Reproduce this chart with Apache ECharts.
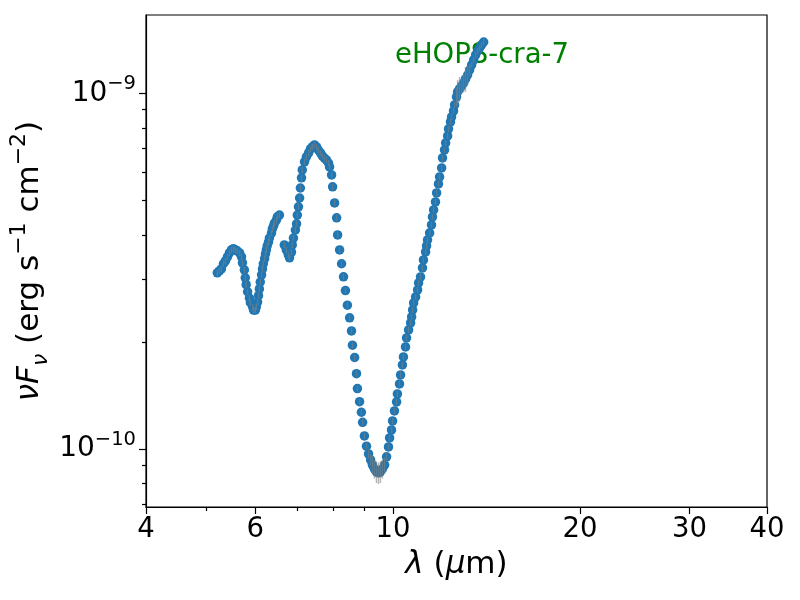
<!DOCTYPE html>
<html>
<head>
<meta charset="utf-8">
<script src="https://cdn.jsdelivr.net/npm/echarts@6/dist/echarts.min.js"></script>
<style>
    html, body { margin: 0; padding: 0; background: #fff; }
    #main { width: 800px; height: 600px; }
</style>
</head>
<body>
<div id="main"></div>
<script>
// wavelength in micron
var wavelength = [
    5.21, 5.25, 5.29, 5.33, 5.37, 5.41, 5.45, 5.49, 5.53, 5.57,
    5.61, 5.66, 5.70, 5.72, 5.76, 5.78, 5.80, 5.83, 5.87, 5.89,
    5.94, 5.96, 6.00, 6.02, 6.05, 6.07, 6.09, 6.11, 6.14, 6.16,
    6.18, 6.21, 6.23, 6.25, 6.27, 6.30, 6.32, 6.37, 6.39, 6.42,
    6.44, 6.49, 6.51, 6.56,
    6.68, 6.73, 6.78, 6.81, 6.86, 6.88, 6.91, 6.96, 6.99, 7.01,
    7.04, 7.07, 7.09, 7.12, 7.14, 7.20, 7.25, 7.31, 7.36, 7.41,
    7.47, 7.53, 7.58, 7.64, 7.69, 7.75, 7.81, 7.87, 7.90, 7.96,
    7.99, 8.05, 8.11, 8.14, 8.20, 8.26, 8.32, 8.38, 8.44, 8.51,
    8.57, 8.60, 8.67, 8.73, 8.76, 8.83, 8.89, 8.93, 8.99, 9.06,
    9.13, 9.20, 9.26, 9.33, 9.40, 9.47, 9.54, 9.61, 9.69, 9.76,
    9.83, 9.87, 9.94, 9.98, 10.05, 10.13, 10.16, 10.24, 10.28, 10.35,
    10.39, 10.47, 10.51, 10.59, 10.67, 10.71, 10.75, 10.79, 10.87, 10.95,
    10.99, 11.07, 11.15, 11.19, 11.28, 11.32, 11.36, 11.45, 11.53, 11.57,
    11.62, 11.70, 11.75, 11.83, 11.88, 11.97, 12.01, 12.10, 12.15, 12.24,
    12.28, 12.37, 12.42, 12.51, 12.56, 12.65, 12.70, 12.79, 12.89, 12.99,
    13.08, 13.18, 13.28, 13.38, 13.48, 13.58, 13.68, 13.78, 13.88, 13.99
];
// nu F_nu in units of 1e-10 erg s^-1 cm^-2
var flux = [
    3.13, 3.17, 3.21, 3.32, 3.38, 3.47, 3.56, 3.63, 3.66, 3.63,
    3.61, 3.56, 3.47, 3.34, 3.19, 3.03, 2.90, 2.77, 2.66, 2.58,
    2.51, 2.46, 2.46, 2.51, 2.59, 2.70, 2.82, 2.95, 3.09, 3.21,
    3.32, 3.43, 3.54, 3.63, 3.73, 3.82, 3.92, 4.05, 4.16, 4.24,
    4.32, 4.41, 4.50, 4.55,
    3.75, 3.63, 3.52, 3.45, 3.58, 3.75, 3.92, 4.13, 4.30, 4.55,
    4.80, 5.08, 5.42, 5.79, 6.09, 6.42, 6.63, 6.80, 6.98, 7.07,
    7.16, 7.07, 6.93, 6.80, 6.67, 6.58, 6.50, 6.37, 6.21, 5.90,
    5.46, 4.92, 4.47, 4.00, 3.63, 3.32, 3.05, 2.79, 2.54, 2.34,
    2.15, 1.96, 1.81, 1.63, 1.48, 1.36, 1.27, 1.19, 1.09, 1.02,
    0.970, 0.933, 0.904, 0.880, 0.864, 0.858, 0.864, 0.880, 0.904, 0.952,
    1.015, 1.076, 1.133, 1.201, 1.281, 1.358, 1.430, 1.526, 1.617, 1.725,
    1.817, 1.938, 2.055, 2.164, 2.264, 2.354, 2.463, 2.577, 2.679, 2.803,
    2.933, 3.049, 3.232, 3.403, 3.584, 3.726, 3.873, 4.053, 4.268, 4.495,
    4.703, 4.953, 5.250, 5.564, 5.823, 6.172, 6.584, 6.933, 7.255, 7.591,
    7.943, 8.310, 8.584, 8.923, 9.277, 9.770, 10.09, 10.29, 10.49, 10.70,
    10.98, 11.26, 11.63, 12.02, 12.41, 12.82, 13.16, 13.41, 13.68, 13.94
];
// fractional error of flux
var fluxErr = [
    0.02, 0.02, 0.02, 0.02, 0.02, 0.02, 0.02, 0.02, 0.02, 0.02,
    0.02, 0.02, 0.02, 0.02, 0.02, 0.02, 0.02, 0.02, 0.02, 0.02,
    0.02, 0.02, 0.02, 0.02, 0.02, 0.02, 0.02, 0.02, 0.02, 0.02,
    0.02, 0.02, 0.02, 0.02, 0.02, 0.02, 0.02, 0.02, 0.02, 0.02,
    0.02, 0.02, 0.02, 0.02,
    0.02, 0.02, 0.02, 0.02, 0.02, 0.02, 0.02, 0.02, 0.02, 0.02,
    0.02, 0.02, 0.02, 0.02, 0.02, 0.02, 0.02, 0.02, 0.02, 0.02,
    0.02, 0.02, 0.02, 0.02, 0.02, 0.02, 0.02, 0.02, 0.02, 0.02,
    0.02, 0.02, 0.02, 0.02, 0.02, 0.02, 0.02, 0.02, 0.02, 0.02,
    0.02, 0.02, 0.02, 0.02, 0.02, 0.02, 0.02, 0.02, 0.02, 0.02,
    0.03, 0.04, 0.06, 0.06, 0.07, 0.07, 0.07, 0.06, 0.05, 0.03,
    0.02, 0.02, 0.02, 0.02, 0.02, 0.02, 0.02, 0.02, 0.02, 0.02,
    0.02, 0.02, 0.02, 0.02, 0.02, 0.02, 0.02, 0.02, 0.02, 0.02,
    0.02, 0.02, 0.02, 0.02, 0.02, 0.02, 0.02, 0.02, 0.02, 0.02,
    0.02, 0.02, 0.02, 0.02, 0.02, 0.02, 0.02, 0.02, 0.02, 0.02,
    0.02, 0.02, 0.02, 0.02, 0.02, 0.06, 0.08, 0.08, 0.05, 0.06,
    0.08, 0.06, 0.04, 0.02, 0.02, 0.02, 0.02, 0.02, 0.02, 0.02
];

var xTicks = [4, 6, 10, 20, 30, 40];
var xMinorTicks = [5, 7, 8, 9];
var yTicks = [1, 10];
var yMinorTicks = [0.7, 0.8, 0.9, 2, 3, 4, 5, 6, 7, 8, 9];
var sourceName = 'eHOPS-cra-7';

var FONT = 'DejaVu Sans';

var chart = echarts.init(document.getElementById('main'));

var points = wavelength.map(function (w, i) {
    return [w, flux[i], fluxErr[i]];
});

var lineStyle = {color: '#000', width: 1.2};

var option = {
    animation: false,
    backgroundColor: '#fff',
    grid: {
        left: 146, right: 33, top: 15, bottom: 93,
        containLabel: false, outerBoundsMode: 'none',
        show: true, borderColor: '#000', borderWidth: 1.2, backgroundColor: 'transparent'
    },
    graphic: [{
        type: 'text', left: 395, top: 42, z: 0,
        style: {text: sourceName, fill: '#008000', font: '27.5px "DejaVu Sans"'}
    }],
    xAxis: [{
        type: 'log', logBase: 10, min: 4, max: 40, position: 'bottom',
        axisLine: {show: true, lineStyle: lineStyle},
        axisTick: {show: true, length: 7, lineStyle: lineStyle, customValues: xTicks},
        axisLabel: {
            customValues: xTicks, color: '#000', fontSize: 27.5, fontFamily: FONT, margin: 9,
            formatter: function (v) { return String(Math.round(v)); }
        },
        splitLine: {show: false},
        minorTick: {show: false},
        name: '{it|λ} ({it|μ}m)',
        nameLocation: 'middle', nameGap: 42, nameMoveOverlap: false,
        nameTextStyle: {
            color: '#000', fontSize: 31, fontFamily: FONT,
            rich: {it: {fontSize: 31, fontFamily: FONT, fontStyle: 'italic', color: '#000'}}
        }
    }, {
        type: 'log', logBase: 10, min: 4, max: 40, position: 'bottom',
        axisLine: {show: false},
        axisTick: {show: true, length: 4, lineStyle: lineStyle, customValues: xMinorTicks},
        axisLabel: {show: false},
        splitLine: {show: false}
    }],
    yAxis: [{
        type: 'log', logBase: 10, min: 0.688, max: 16.6, position: 'left',
        axisLine: {show: true, lineStyle: lineStyle},
        axisTick: {show: true, length: 7, lineStyle: lineStyle, customValues: yTicks},
        axisLabel: {
            customValues: yTicks, color: '#000', fontSize: 28, fontFamily: FONT, margin: 10,
            lineHeight: 38,
            formatter: function (v) {
                var e = Math.round(Math.log10(v)) - 10;
                return '{b|10}{s|\u2212' + Math.abs(e) + '}';
            },
            rich: {
                b: {fontSize: 28, fontFamily: FONT, color: '#000', lineHeight: 38},
                s: {fontSize: 19.5, fontFamily: FONT, color: '#000', lineHeight: 18, verticalAlign: 'top'}
            }
        },
        splitLine: {show: false},
        minorTick: {show: false},
        name: '{it|νF}{sub|ν} (erg s{sup|\u22121} cm{sup|\u22122})',
        nameLocation: 'middle', nameGap: 94, nameMoveOverlap: false,
        nameTextStyle: {
            color: '#000', fontSize: 31, fontFamily: FONT, lineHeight: 44,
            rich: {
                it: {fontSize: 31, fontFamily: FONT, fontStyle: 'italic', color: '#000', lineHeight: 44},
                sub: {fontSize: 22, fontFamily: FONT, fontStyle: 'italic', color: '#000', lineHeight: 30, verticalAlign: 'bottom'},
                sup: {fontSize: 22, fontFamily: FONT, color: '#000', lineHeight: 20, verticalAlign: 'top'}
            }
        }
    }, {
        type: 'log', logBase: 10, min: 0.688, max: 16.6, position: 'left',
        axisLine: {show: false},
        axisTick: {show: true, length: 4, lineStyle: lineStyle, customValues: yMinorTicks},
        axisLabel: {show: false},
        splitLine: {show: false}
    }],
    series: [{
        type: 'scatter',
        data: points,
        xAxisIndex: 0, yAxisIndex: 0,
        symbol: 'circle', symbolSize: 9.5,
        itemStyle: {color: '#1f77b4', opacity: 1},
        z: 2
    }, {
        // error bars
        type: 'custom',
        data: points,
        xAxisIndex: 0, yAxisIndex: 0,
        encode: {x: 0, y: 1},
        z: 3,
        renderItem: function (params, api) {
            var x = api.value(0), y = api.value(1), e = api.value(2);
            var lo = api.coord([x, y * (1 - e)]);
            var hi = api.coord([x, y * (1 + e)]);
            return {
                type: 'line',
                shape: {x1: lo[0], y1: lo[1], x2: hi[0], y2: hi[1]},
                style: {stroke: 'rgba(128,128,128,0.6)', lineWidth: 1.4}
            };
        }
    }]
};

chart.setOption(option);
</script>
</body>
</html>
